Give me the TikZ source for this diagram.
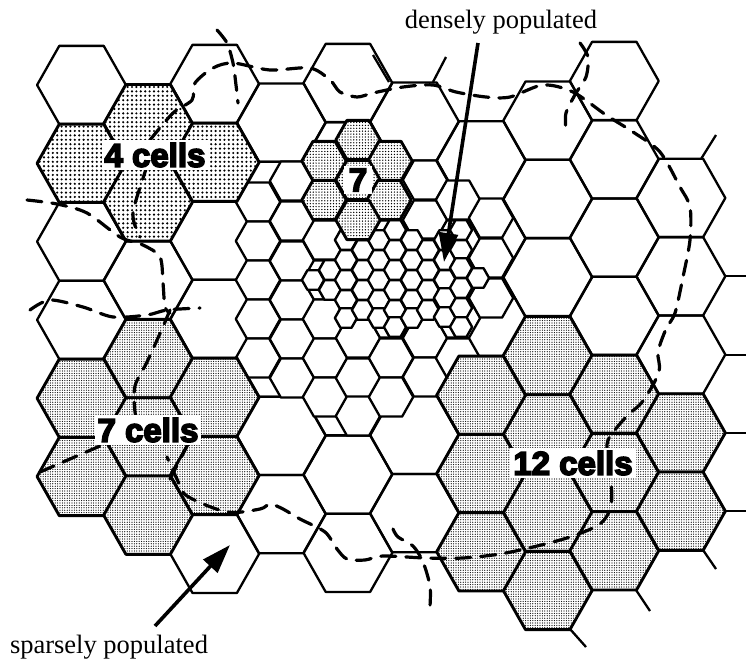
\documentclass[tikz,border=0pt]{standalone}
\usepackage{fontspec}
\setmainfont{Liberation Serif}
\newfontfamily\cellfont[FakeBold=5]{Liberation Sans Bold}
\usetikzlibrary{arrows.meta, patterns.meta}

\newcommand{\hexcell}[4][cell]{\draw[#1,shift={(#2,#3)},xscale=.983] (0:#4)--(60:#4)--(120:#4)--(180:#4)--(240:#4)--(300:#4)--cycle;}
\newcommand{\bigcell}[3][cell]{\pgfmathsetmacro\cx{81.5+66.6*#2}\pgfmathsetmacro\cy{85+39.15*#3-.5*#2}\hexcell[#1]{\cx}{\cy}{45.2}}

\begin{document}
\begin{tikzpicture}[
            x=1pt,
            y=-1pt,
            cell/.style={
                    draw,
                    line width=2.3pt,
                    line join=round
                },
            midcell/.style={
                    cell,
                    fill=white
                },
            smallcell/.style={
                    cell,
                    fill=white,
                    line width=2.4pt
                },
            coarse/.style={
                    cell,
                    line width=2.9pt,
                    preaction={fill=white},
                    pattern={Dots[distance=4.4pt,radius=1.2pt]}
                },
            finer/.style={
                    cell,
                    line width=2.9pt,
                    preaction={fill=white},
                    pattern={Dots[distance=2.9pt,radius=.72pt]}
                },
            finest/.style={
                    cell,
                    line width=2.9pt,
                    preaction={fill=white},
                    pattern={Dots[distance=2.4pt,radius=.62pt]}
                },
            street/.style={
                    line width=3.2pt,
                    line cap=round,
                    dash pattern=on 15pt off 10pt
                },
            arrow/.style={
                    -{Triangle[length=29pt,width=19pt]},
                    line width=3.6pt
                },
            caption/.style={
                    font=\fontsize{26.5}{30}\selectfont
                },
            tag/.style={
                    fill=white,
                    inner xsep=3pt,
                    inner ysep=2.5pt,
                    font=\cellfont\fontsize{33}{36}\selectfont
                }
        ]

        \useasboundingbox (0,0) rectangle (746,659);

        \foreach \col/\rows in {0/{0,4,6},1/{5},2/{0,4,6,12},3/{1,3,5,7,9,11},4/{0,2,4,6,8,10,12},5/{1,3,5,7,9,11},6/{2,4,6},7/{1,3,5},8/{0,2,4,6},9/{3,5,7}}
        \foreach \row in \rows {\bigcell{\col}{\row}}

        \foreach \cx/\rows in {258/{202,241,280,319,358},292/{181,221,261,300,339,378},325/{240,280,319,358,397},358/{260,298,338,378,416},391/{240,280,318,358,397},425/{180,220,258,298,338,377},458/{200,240,278,318,358},491/{218,258,298}}
        \foreach \cy in \rows {\hexcell[midcell]{\cx}{\cy}{22.6}}

        \foreach \cx/\rows in {313/{280},330/{270,290},346/{240,260,280,300,318},363/{250,270,290,310},379/{240,260,280,300,318},395/{230,250,270,290,310,327},412/{240,260,280,300,318},428/{250,270,290,310},445/{240,260,280,298,317},461/{230,250,268,288,308,327},478/{278}}
        \foreach \cy in \rows {\hexcell[smallcell]{\cx}{\cy}{11.3}}

        \foreach \cx/\cy in {358/140,324/161,390/161,358/180,324/200,389/200,358/220}
        {\hexcell[finer]{\cx}{\cy}{22.6}}

        \foreach \col/\row in {1/1,0/2,2/2,1/3}
        {\bigcell[coarse]{\col}{\row}}
        \foreach \col/\row in {1/7,0/8,2/8,1/9,0/10,2/10,1/11,7/7,7/9,7/11,7/13,6/8,6/10,6/12,8/8,8/10,8/12,9/9,9/11}
        {\bigcell[finest]{\col}{\row}}

        \draw[cell] (373,55)--(389,82);
        \draw[cell] (433,82)--(446,57);
        \draw[cell] (701,159)--(716,135);
        \draw[cell] (725,276)--(746,276);
        \draw[cell] (725,355)--(746,355);
        \draw[cell] (725,433)--(746,433);
        \draw[cell] (725,511)--(746,511);
        \draw[cell] (703,550)--(716,569);
        \draw[cell] (636,590)--(650,611);
        \draw[cell] (570,629)--(586,647);

        \draw[street] plot[smooth] coordinates {(217,30) (227,43) (233,63) (236,85) (238,103)};
        \draw[street] plot[smooth] coordinates {(150,140) (173,113) (192,100) (195,83) (213,68) (233,63) (270,70) (310,68) (330,80) (340,92) (357,97) (373,93) (403,87) (433,85) (456,92) (486,97) (510,97) (543,85) (573,92) (606,115) (633,132) (660,152) (680,187) (690,207) (690,240) (683,277) (675,313) (666,329) (658,352) (659,372) (643,401) (626,417) (608,440) (608,460) (611,479) (611,506) (600,524) (570,537) (533,547) (500,554) (463,558) (426,558) (383,556) (365,560) (347,559) (337,549) (325,532) (300,519) (283,509) (270,504) (260,509) (227,512) (187,496) (177,479) (167,457)};
        \draw[street] plot[smooth] coordinates {(393,529) (398,537) (413,546) (423,562) (430,586) (430,606)};
        \draw[street] plot[smooth] coordinates {(580,43) (588,57) (586,77) (576,93) (566,113) (566,130)};
        \draw[street] plot[smooth] coordinates {(27,200) (57,204) (87,213) (120,237) (143,245) (160,257) (163,283) (165,307) (170,313)};
        \draw[street] plot[smooth] coordinates {(30,310) (50,300) (83,307) (113,317) (147,315) (167,310) (200,308)};
        \draw[street] plot[smooth] coordinates {(150,140) (147,165) (133,213) (140,237)};
        \draw[street] plot[smooth] coordinates {(170,310) (162,329) (147,362) (135,386) (135,412) (140,430)};
        \draw[street] plot[smooth] coordinates {(40,472) (70,459) (100,446)};
        \draw[street] plot[smooth] coordinates {(170,479) (187,446)};

        \node[tag] (four) at (155,155) {4 cells};
        \node[tag] (seven) at (148,430) {7 cells};
        \node[tag] (twelve) at (573,463) {12 cells};
        \node[tag,inner xsep=5pt] (core) at (358,180) {7};

        \node[caption] (dense) at (501,22) {densely populated};
        \node[caption] (sparse) at (109,647) {sparsely populated};

        \coordinate (densetail) at (478,43);
        \coordinate (densetip) at (444,262);
        \coordinate (sparsetail) at (155,626);
        \coordinate (sparsetip) at (230,545);

        \draw[arrow](densetail)--(densetip);
        \draw[arrow](sparsetail)--(sparsetip);


    \end{tikzpicture}
\end{document}
